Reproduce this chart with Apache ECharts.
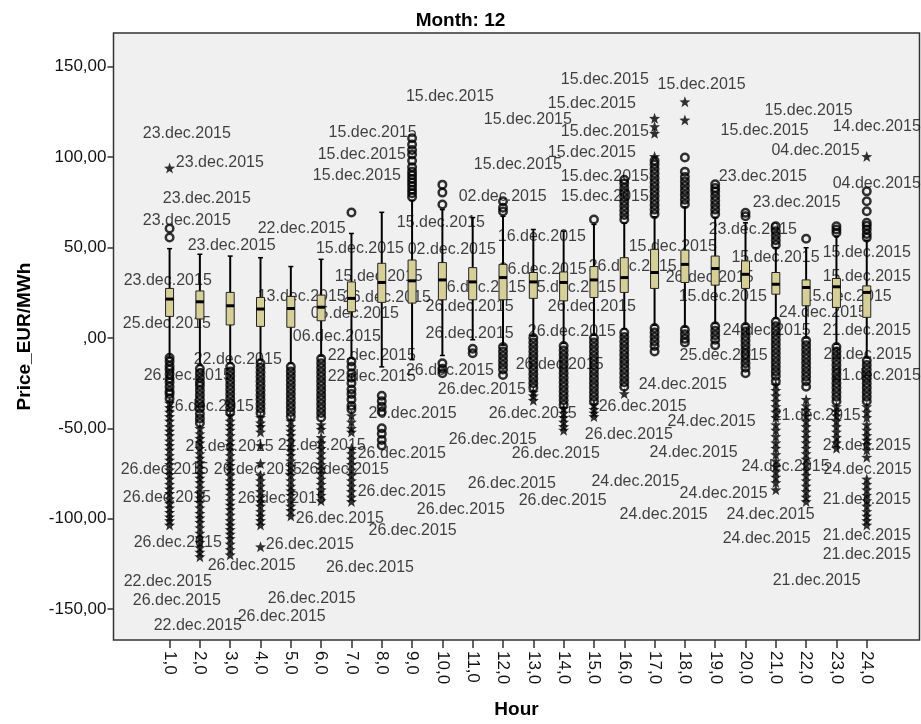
<!DOCTYPE html>
<html>
<head>
<meta charset="utf-8">
<script src="https://cdn.jsdelivr.net/npm/echarts@6/dist/echarts.min.js"></script>
<style>html,body{margin:0;padding:0;background:#fff;}#c{width:921px;height:724px;}</style>
</head>
<body>
<div id="c"></div>
<script>
// ---------- data ----------
const hours = [1,2,3,4,5,6,7,8,9,10,11,12,13,14,15,16,17,18,19,20,21,22,23,24];
const whiskerLow  = [-10.6,-15,-14,-12,-14,-10,-11,-16,-12,-9.7,-1,-4,1,-3,1.5,5,7,6,8,7.5,11,0,-3.5,-11];
const q1          = [11.9,10.5,7.2,6.4,5.9,9.5,14.5,19.7,19.3,21.1,21.1,21.1,21.9,20.5,22.4,25.2,27.4,30.7,29.2,27.4,24.2,17.8,16.9,11.4];
const median      = [21.5,20.0,17.8,16.0,16.3,17.0,21.9,30.7,31.6,32.1,31.0,33.4,31.0,30.7,32.1,33.4,36.2,40.7,38.4,35.2,29.7,27.9,28.3,25.2];
const q3          = [27.4,26.0,25.2,22.4,23.0,23.7,31.0,41.3,43.1,41.7,38.9,40.7,36.2,36.5,39.5,44.4,49.0,48.6,45.3,42.6,36.2,32.1,32.9,28.8];
const whiskerHigh = [49.4,46.3,45.3,44.4,39.5,43.5,57.8,69.5,76,71,66.6,67.3,60,59.1,62.8,63.5,67,72.5,66.5,63.7,50,49.9,56,54];

// outliers (circles), one list per hour
const circleOutliers = [
  [60.5,55.6,-11,-13,-15.5,-17.5,-20,-22.5,-24.5,-27,-29.5,-31,-33.5],
  [-17,-19.5,-22,-24.5,-26.5,-29,-31.5,-34,-36.5,-39,-42,-44.5,-47],
  [-16,-18.5,-21,-23.5,-26,-28.5,-31,-33.5,-36,-38.5,-41],
  [-14,-16.5,-19,-21.5,-24,-26.5,-29,-31.5,-34,-36.5,-39,-41.5],
  [-16,-18.5,-21,-23.5,-26,-28.5,-31,-33.5,-36,-38.5,-41,-43.5],
  [-11.5,-14,-16.5,-19,-21.5,-24,-26.5,-29,-31.5,-34,-36.5,-39,-41.5,-44],
  [69.4,-13,-16,-19.5,-22,-25,-28.5,-31,-34,-37.5,-39.5],
  [-32,-35,-38,-41,-50,-53,-56.5,-59.5],
  [78,80,82,84,86,88,90,92,94.5,98,101.5,104,107,110.5],
  [73.8,80.4,84.8,-14,-17,-19.5],
  [-6,-8.5],
  [70,72,75.6,-5,-7.5,-10,-12.5,-15,-17.5,-20.5],
  [0,-2.5,-5,-7.5,-10,-12.5,-15,-17.5,-20,-22.5,-25,-27.5],
  [-4.5,-7,-9.5,-12,-14.5,-17,-19.5,-22,-24.5,-27,-29.5,-32,-34.5,-37],
  [65.5,0,-2.5,-5,-7.5,-10,-12.5,-15,-17.5,-20,-22.5,-25,-27.5,-30,-32.5,-35],
  [65.5,68,70.5,73,75.5,78,80.5,83,85.5,87.5,3,0.5,-2,-4.5,-7,-9.5,-12,-14.5,-17,-19.5,-22,-24.5,-27],
  [68.5,71,73.5,76,78.5,81,83.5,86,88.5,91,93.5,96,98,5.5,3,0.5,-2,-4.5,-7.5],
  [74,76.5,79,81.5,84,86.5,89,92,99.8,4.5,2,-0.5,-2.5],
  [68.5,71,73.5,76,78.5,81,83,85,6.5,4,1.5,-1,-4],
  [67.3,69.2,6,3.5,1,-1.5,-4,-6.5,-9,-11.5,-14,-16.5,-19.5],
  [51.5,54,56.5,59,61.8,9,6.5,4,1.5,-1,-3.5,-6,-8.5,-11,-13.5,-16,-18.5,-21,-24],
  [54.9,-1.5,-4,-6.5,-9,-11.5,-14,-16.5,-19,-21.5,-24,-27],
  [58.2,60,61.8,-5,-7.5,-10,-12.5,-15,-17.5,-20,-22.5,-25,-27.5,-30,-32.5,-35],
  [55.5,57.5,60,62,63.7,70.1,75.6,81.1,-12.5,-15,-17.5,-20,-22.5,-25,-27.5,-30,-32.5,-35]
];
// extremes (stars), one list per hour
const starOutliers = [
  [94,-36,-38.5,-41,-43.5,-46,-49,-51.5,-54,-57,-59.5,-62,-65,-67.5,-70,-73,-75.5,-78,-81,-83.5,-86,-89,-91.5,-94,-96.5,-99,-101,-103.5],
  [-50,-53,-55.5,-58,-61,-64,-66.5,-69,-72,-75,-77.5,-80,-83,-86,-88.5,-91,-94,-97,-99.5,-102,-105,-108,-110.5,-113,-116,-118.5,-121],
  [-43,-46,-48.5,-51,-54,-57,-59.5,-62,-65,-68,-70.5,-73,-76,-79,-81.5,-84,-87,-90,-92.5,-95,-98,-101,-103.5,-106,-108.5,-111,-114,-117,-120],
  [-44,-47,-49,-52,-59.5,-69.5,-76,-79,-82,-85,-88,-90.5,-93,-96,-98.5,-101,-103.5,-115.5],
  [-46,-49,-51.5,-54,-57,-60,-62.5,-65,-68,-71,-73.5,-76,-79,-82,-84.5,-87,-90,-93,-95.5,-98.5],
  [-48,-50.5,-55,-58,-61,-64,-67,-70,-72.5,-75,-78,-81,-84,-87,-90],
  [-43,-46.5,-50,-52,-61,-64,-67,-70,-73,-76,-79,-82,-85,-88,-90.5],
  [],
  [],
  [],
  [],
  [],
  [-30,-32,-34.5],
  [-39,-41.5,-44,-46.5,-49,-51],
  [-37,-39.5,-41.5,-43.5],
  [-30.8],
  [100.4,113.2,116.9,121.5],
  [120.6,130.7],
  [],
  [],
  [-26,-29,-32,-35,-38,-41,-44,-48,-51,-54.5,-58,-61,-64.5,-68,-71,-74,-77,-80,-84],
  [-34,-37.5,-40,-43,-46,-49,-52,-55,-58,-61,-64,-67,-70,-73,-76,-79,-82,-85,-88,-90.5],
  [-38,-40.5,-43,-46,-49,-52,-55,-58,-61],
  [100.4,-38,-41,-44,-48,-51,-54,-56.5,-59,-62,-66,-78,-81,-84,-87,-90,-93,-96,-98.5,-101,-103.5]
];

// case labels: [hour position of label start, value, text]
const dateLabels = [
  [0.10,112.9,"23.dec.2015"],[1.19,96.9,"23.dec.2015"],[0.76,77.1,"23.dec.2015"],[0.10,65.0,"23.dec.2015"],
  [1.58,51.2,"23.dec.2015"],[3.89,60.6,"22.dec.2015"],[6.23,113.4,"15.dec.2015"],[5.87,101.3,"15.dec.2015"],
  [5.71,89.8,"15.dec.2015"],[5.81,49.6,"15.dec.2015"],[6.43,34.1,"15.dec.2015"],[-0.53,31.9,"23.dec.2015"],
  [3.89,23.1,"13.dec.2015"],[6.70,22.6,"26.dec.2015"],[5.64,13.2,"05.dec.2015"],[-0.56,7.7,"25.dec.2015"],
  [8.84,49.0,"02.dec.2015"],[8.48,63.9,"15.dec.2015"],[8.78,133.3,"15.dec.2015"],[11.35,120.6,"15.dec.2015"],
  [11.02,95.8,"15.dec.2015"],[10.52,78.2,"02.dec.2015"],[11.81,56.2,"16.dec.2015"],[11.84,38.0,"06.dec.2015"],
  [14.81,39.6,"26.dec.2015"],[9.83,28.1,"26.dec.2015"],[12.80,28.1,"15.dec.2015"],[9.43,17.1,"26.dec.2015"],
  [13.46,17.1,"26.dec.2015"],[13.89,143.2,"15.dec.2015"],[13.46,129.4,"15.dec.2015"],[13.89,114.0,"15.dec.2015"],
  [13.46,102.4,"15.dec.2015"],[13.89,89.2,"15.dec.2015"],[13.89,78.2,"15.dec.2015"],[17.08,140.4,"15.dec.2015"],
  [20.61,125.6,"15.dec.2015"],[19.16,114.5,"15.dec.2015"],[22.86,116.7,"14.dec.2015"],[20.84,103.5,"04.dec.2015"],
  [19.10,89.2,"23.dec.2015"],[22.86,85.4,"04.dec.2015"],[20.22,74.9,"23.dec.2015"],[18.77,60.0,"23.dec.2015"],
  [16.13,50.7,"15.dec.2015"],[19.52,44.6,"15.dec.2015"],[22.53,47.4,"15.dec.2015"],[22.53,34.1,"15.dec.2015"],
  [17.35,33.6,"26.dec.2015"],[17.78,23.1,"15.dec.2015"],[21.90,23.1,"15.dec.2015"],[21.08,13.8,"24.dec.2015"],
  [22.53,3.9,"21.dec.2015"],[19.23,3.9,"24.dec.2015"],[17.81,-9.9,"25.dec.2015"],[22.56,-9.4,"21.dec.2015"],
  [22.86,-20.9,"21.dec.2015"],[16.46,-25.9,"24.dec.2015"],[17.41,-46.3,"24.dec.2015"],[20.88,-43.0,"21.dec.2015"],
  [16.82,-63.3,"24.dec.2015"],[22.53,-59.5,"24.dec.2015"],[22.56,-72.7,"24.dec.2015"],[19.85,-71.0,"24.dec.2015"],
  [17.81,-85.9,"24.dec.2015"],[22.53,-89.2,"21.dec.2015"],[19.36,-98.0,"24.dec.2015"],[19.23,-111.2,"24.dec.2015"],
  [22.53,-109.6,"21.dec.2015"],[22.53,-120.0,"21.dec.2015"],[20.88,-134.4,"21.dec.2015"],[15.14,-38.0,"26.dec.2015"],
  [14.68,-53.4,"26.dec.2015"],[14.90,-79.3,"24.dec.2015"],[15.83,-97.5,"24.dec.2015"],[9.43,2.2,"26.dec.2015"],
  [12.80,3.3,"26.dec.2015"],[8.78,-18.2,"26.dec.2015"],[12.40,-14.9,"26.dec.2015"],[9.83,-28.6,"26.dec.2015"],
  [11.51,-41.9,"26.dec.2015"],[5.05,0.6,"06.dec.2015"],[1.78,-12.1,"22.dec.2015"],[6.20,-9.9,"22.dec.2015"],
  [6.20,-21.5,"22.dec.2015"],[0.13,-20.9,"26.dec.2015"],[0.86,-38.0,"26.dec.2015"],[7.55,-41.9,"26.dec.2015"],
  [1.51,-60.0,"26.dec.2015"],[4.55,-59.5,"22.dec.2015"],[7.19,-63.9,"26.dec.2015"],[-0.63,-72.7,"26.dec.2015"],
  [2.44,-72.7,"26.dec.2015"],[5.31,-72.7,"26.dec.2015"],[-0.56,-88.1,"26.dec.2015"],[3.23,-88.7,"26.dec.2015"],
  [5.15,-99.7,"26.dec.2015"],[7.55,-106.8,"26.dec.2015"],[-0.20,-113.4,"26.dec.2015"],[4.16,-114.5,"26.dec.2015"],
  [2.24,-126.1,"26.dec.2015"],[6.14,-127.2,"26.dec.2015"],[-0.53,-134.9,"22.dec.2015"],[-0.23,-145.4,"26.dec.2015"],
  [4.22,-144.3,"26.dec.2015"],[3.23,-154.2,"26.dec.2015"],[0.46,-159.1,"22.dec.2015"],[10.19,-56.2,"26.dec.2015"],
  [12.27,-63.9,"26.dec.2015"],[10.82,-80.4,"26.dec.2015"],[12.50,-89.8,"26.dec.2015"],[9.14,-94.7,"26.dec.2015"],
  [7.19,-84.8,"26.dec.2015"]
];

const yTicks = [-150,-100,-50,0,50,100,150];

// ---------- build ----------
const boxRows = hours.map((h,i)=>[h, whiskerLow[i], q1[i], median[i], q3[i], whiskerHigh[i]]);
const circlePts = [], starPts = [];
hours.forEach((h,i)=>{
  circleOutliers[i].forEach(v=>circlePts.push([h,v]));
  starOutliers[i].forEach(v=>starPts.push([h,v]));
});
const FONT = '"Liberation Sans", Arial, sans-serif';
const starPath = 'path://M0,-10L2.4,-3.4L9.5,-3.1L3.9,1.3L5.9,8.1L0,4.1L-5.9,8.1L-3.9,1.3L-9.5,-3.1L-2.4,-3.4Z';

function fmtY(v){ if (v===0) return ',00'; return v.toFixed(2).replace('.', ','); }

const chart = echarts.init(document.getElementById('c'), null, {renderer:'canvas'});
chart.setOption({
  animation: false,
  backgroundColor: '#ffffff',
  title: {
    text: 'Month: 12', left: 'center', top: 6,
    textStyle: {fontFamily: FONT, fontSize: 19, fontWeight: 'bold', color: '#000'}
  },
  grid: {
    left: 113.5, right: 1.5, top: 33, bottom: 81,
    show: true, backgroundColor: '#f0f0f0', borderColor: '#333', borderWidth: 1.5
  },
  xAxis: {
    type: 'value', min: -0.85, max: 25.74,
    name: 'Hour', nameLocation: 'middle', nameGap: 60,
    nameTextStyle: {fontFamily: FONT, fontSize: 19, fontWeight: 'bold', color: '#000'},
    axisLine: {show: false, onZero: false},
    splitLine: {show: false},
    axisTick: {show: true, customValues: hours, length: 8, lineStyle: {color: '#333', width: 1.5}},
    axisLabel: {
      customValues: hours, rotate: -90, margin: 11,
      fontFamily: FONT, fontSize: 17, color: '#111',
      formatter: v => v.toFixed(1).replace('.', ',')
    }
  },
  yAxis: {
    type: 'value', min: -167.1, max: 168.7,
    name: 'Price_EUR/MWh', nameLocation: 'middle', nameGap: 79,
    nameTextStyle: {fontFamily: FONT, fontSize: 19, fontWeight: 'bold', color: '#000'},
    axisLine: {show: false, onZero: false},
    splitLine: {show: false},
    axisTick: {show: true, customValues: yTicks, length: 6, lineStyle: {color: '#333', width: 1.5}},
    axisLabel: {customValues: yTicks, margin: 7, fontFamily: FONT, fontSize: 17, color: '#111', formatter: fmtY}
  },
  series: [
    {
      type: 'scatter', name: 'labels', z: 1,
      data: dateLabels, symbolSize: 1, itemStyle: {color: 'rgba(0,0,0,0)'},
      silent: true,
      label: {
        show: true, position: 'right', distance: 0,
        fontFamily: FONT, fontSize: 16, color: '#111',
        formatter: p => p.data[2]
      },
      labelLayout: {hideOverlap: false}
    },
    {
      type: 'custom', name: 'boxes', z: 3,
      data: boxRows,
      renderItem: function(params, api){
        const x = api.value(0);
        const pLo = api.coord([x, api.value(1)]);
        const pQ1 = api.coord([x, api.value(2)]);
        const pMd = api.coord([x, api.value(3)]);
        const pQ3 = api.coord([x, api.value(4)]);
        const pHi = api.coord([x, api.value(5)]);
        const hw = 4, cw = 2.5;
        return {type: 'group', children: [
          {type: 'line', shape: {x1: pHi[0], y1: pHi[1], x2: pLo[0], y2: pLo[1]}, style: {stroke: '#000', lineWidth: 2}},
          {type: 'line', shape: {x1: pHi[0]-cw, y1: pHi[1], x2: pHi[0]+cw, y2: pHi[1]}, style: {stroke: '#000', lineWidth: 1.5}},
          {type: 'line', shape: {x1: pLo[0]-cw, y1: pLo[1], x2: pLo[0]+cw, y2: pLo[1]}, style: {stroke: '#000', lineWidth: 1.5}},
          {type: 'rect', shape: {x: pQ3[0]-hw, y: pQ3[1], width: 2*hw, height: pQ1[1]-pQ3[1]}, style: {fill: '#d6cf98', stroke: '#222', lineWidth: 1}},
          {type: 'line', shape: {x1: pMd[0]-hw, y1: pMd[1], x2: pMd[0]+hw, y2: pMd[1]}, style: {stroke: '#000', lineWidth: 3}}
        ]};
      }
    },
    {
      type: 'scatter', name: 'outliers', z: 4,
      data: circlePts, symbol: 'circle', symbolSize: 7.5,
      itemStyle: {color: 'rgba(0,0,0,0)', borderColor: '#000', borderWidth: 2.5}
    },
    {
      type: 'scatter', name: 'extremes', z: 5,
      data: starPts, symbol: starPath, symbolSize: 11,
      itemStyle: {color: '#000'}
    }
  ]
});
</script>
</body>
</html>
